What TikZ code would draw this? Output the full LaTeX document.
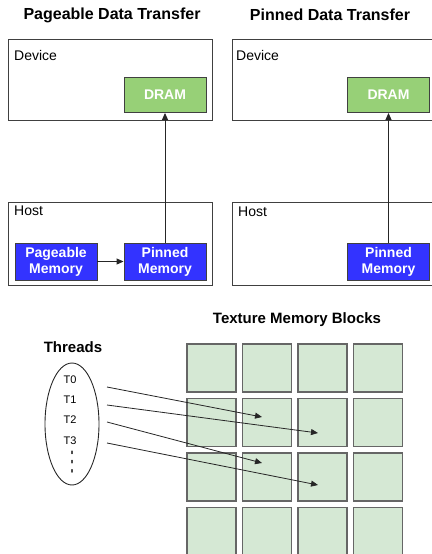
\documentclass[tikz,border=0pt]{standalone}
\usepackage{fontspec}
\setmainfont{Liberation Sans}
\newfontfamily\symfont{DejaVu Sans}
\usetikzlibrary{arrows.meta}
\definecolor{dramgreen}{HTML}{97D077}
\definecolor{blockgreen}{HTML}{D5E8D4}
\definecolor{memblue}{HTML}{3333FF}
\definecolor{edgegray}{HTML}{666666}
\begin{document}
\begin{tikzpicture}[x=1pt,y=-1pt,
  panel/.style={draw=black!75,line width=0.9pt},
  dram/.style={draw=black!75,fill=dramgreen,line width=0.9pt,minimum width=82pt,minimum height=35pt,inner sep=0pt,text=white,font=\fontsize{14}{16}\selectfont\bfseries},
  mem/.style={draw=black!75,fill=memblue,line width=0.9pt,minimum width=82pt,minimum height=37pt,inner sep=0pt,text=white,align=center,font=\fontsize{14}{16}\selectfont\bfseries},
  title/.style={font=\fontsize{16}{18}\selectfont\bfseries},
  subtitle/.style={font=\fontsize{15}{17}\selectfont\bfseries},
  lbl/.style={anchor=west,inner sep=0pt,font=\fontsize{14}{16}\selectfont},
  tlbl/.style={inner sep=0pt,font=\fontsize{11}{13}\selectfont},
  dotlbl/.style={inner sep=0pt,font=\fontsize{18}{18}\symfont},
  blk/.style={draw=edgegray,fill=blockgreen,line width=1.2pt},
  arr/.style={-{Triangle[length=7pt,width=6pt]},line width=0.9pt,draw=black!85},
  tarr/.style={-{Triangle[length=7pt,width=6pt]},line width=0.8pt,draw=black!85}]
\useasboundingbox (0,0) rectangle (431,554);
% ---- left panel
\node[title] (t1) at (112,15) {Pageable Data Transfer};
\draw[panel] (8,39) rectangle (212,120);
\node[lbl] (dev1) at (14,55) {Device};
\node[dram] (dram1) at (165,95) {DRAM};
\draw[panel] (8,202) rectangle (212,285);
\node[lbl] (host1) at (14,211) {Host};
\node[mem] (page1) at (56,261.5) {Pageable\\Memory};
\node[mem] (pin1) at (165,261.5) {Pinned\\Memory};
\draw[arr] (page1) -- (pin1);
\draw[arr] (pin1) -- (dram1);
% ---- right panel
\node[title] (t2) at (330,15) {Pinned Data Transfer};
\draw[panel] (232,39) rectangle (440,120);
\node[lbl] (dev2) at (236,55) {Device};
\node[dram] (dram2) at (388.5,95) {DRAM};
\draw[panel] (232,202) rectangle (440,285);
\node[lbl] (host2) at (238,212) {Host};
\node[mem] (pin2) at (388.5,261.5) {Pinned\\Memory};
\draw[arr] (pin2) -- (dram2);
% ---- threads
\node[subtitle] (th) at (73,347) {Threads};
\draw[line width=0.9pt,draw=black!85] (72,424) ellipse (27 and 61);
\node[tlbl] (T0) at (70,380) {T0};
\node[tlbl] (T1) at (70,400) {T1};
\node[tlbl] (T2) at (70,420) {T2};
\node[tlbl] (T3) at (70,441) {T3};
\node[dotlbl] (dots) at (72,462) {\scalebox{0.75}[1.5]{⋮}};
% ---- texture blocks
\node[subtitle] (tm) at (297,320) {Texture Memory Blocks};
\foreach \c/\x in {0/187,1/242.5,2/298,3/353.5}{
  \foreach \r/\y in {0/344,1/398.5,2/453,3/507.5}{
    \draw[blk] (\x,\y) rectangle ++(49,48);
  }
}
\coordinate (s0) at (107,387);
\coordinate (s1) at (107,405);
\coordinate (s2) at (107,422);
\coordinate (s3) at (107,443);
\coordinate (e0) at (262,417);
\coordinate (e1) at (318,433);
\coordinate (e2) at (262,463);
\coordinate (e3) at (318,485);
\draw[tarr] (s0) -- (e0);
\draw[tarr] (s1) -- (e1);
\draw[tarr] (s2) -- (e2);
\draw[tarr] (s3) -- (e3);
\end{tikzpicture}
\end{document}
